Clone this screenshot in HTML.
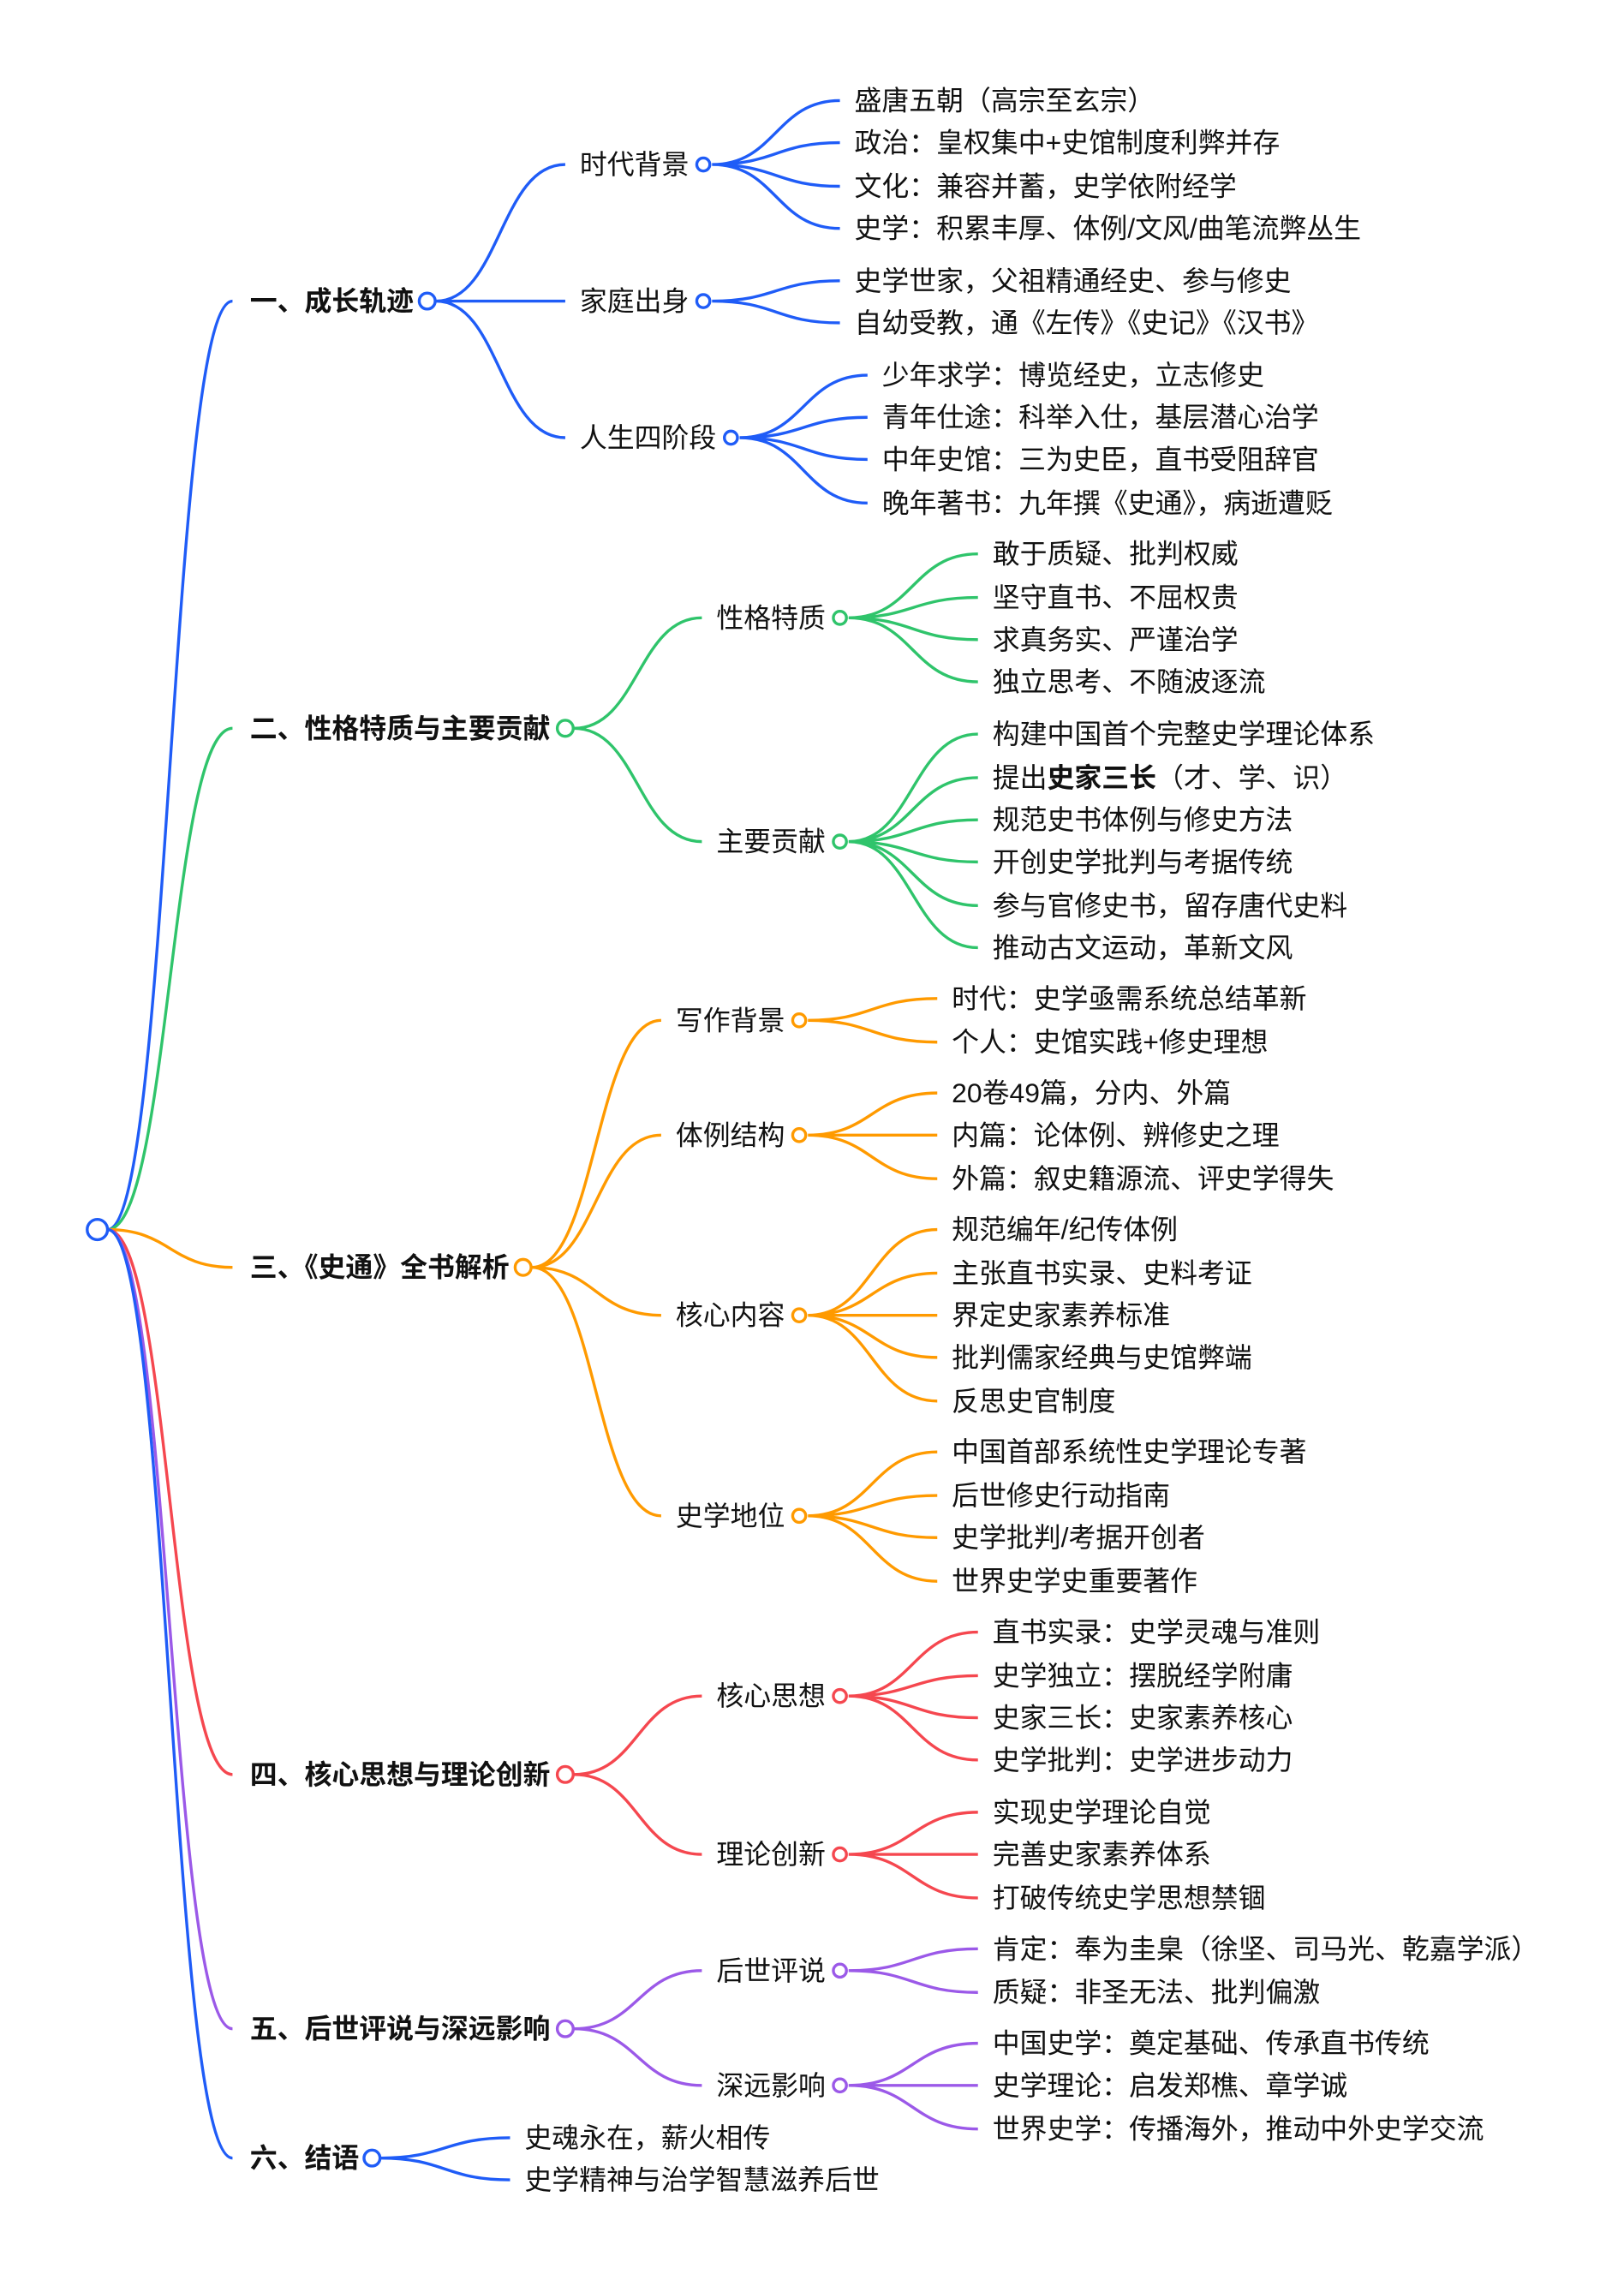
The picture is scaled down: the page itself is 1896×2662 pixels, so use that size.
<!DOCTYPE html>
<html><head><meta charset="utf-8"><style>
html,body{margin:0;padding:0;background:#fff;}
svg{display:block;}
text{font-family:"Liberation Sans","Noto Sans CJK SC",sans-serif;font-size:18.8px;fill:#111;dominant-baseline:central;}
.b{font-weight:bold;}
path{fill:none;stroke-width:2;}
circle{fill:#fff;stroke-width:2;}
.bl{stroke:#1f5cf7}.gr{stroke:#2fc46b}.or{stroke:#ff9a00}.rd{stroke:#f5474f}.pu{stroke:#9b59e8}
</style></head><body>
<svg width="1896" height="2662" viewBox="0 0 1117.6 1568.7" xmlns="http://www.w3.org/2000/svg">
<path class="bl" d="M74 846 C117 846,117 207,160 207"/>
<path class="gr" d="M74 846 C117 846,117 501,160 501"/>
<path class="or" d="M74 846 C117 846,117 872,160 872"/>
<path class="rd" d="M74 846 C117 846,117 1221,160 1221"/>
<path class="pu" d="M74 846 C117 846,117 1396,160 1396"/>
<path class="bl" d="M74 846 C117 846,117 1485,160 1485"/>

<path class="bl" d="M300 207 C344 207,344 113,389 113 M300 207 L389 207 M300 207 C344 207,344 301,389 301"/>
<path class="bl" d="M490 113 C534 113,534 69,578 69 M490 113 C534 113,534 98,578 98 M490 113 C534 113,534 128,578 128 M490 113 C534 113,534 157,578 157"/>
<path class="bl" d="M490 207 C534 207,534 193,578 193 M490 207 C534 207,534 222,578 222"/>
<path class="bl" d="M509 301 C553 301,553 258,597 258 M509 301 C553 301,553 287,597 287 M509 301 C553 301,553 316,597 316 M509 301 C553 301,553 346,597 346"/>
<path class="gr" d="M395 501 C439 501,439 425,483 425 M395 501 C439 501,439 579,483 579"/>
<path class="gr" d="M584 425 C628 425,628 381,673 381 M584 425 C628 425,628 411,673 411 M584 425 C628 425,628 440,673 440 M584 425 C628 425,628 469,673 469"/>
<path class="gr" d="M584 579 C628 579,628 505,673 505 M584 579 C628 579,628 535,673 535 M584 579 C628 579,628 564,673 564 M584 579 C628 579,628 593,673 593 M584 579 C628 579,628 623,673 623 M584 579 C628 579,628 652,673 652"/>
<path class="or" d="M366 872 C410 872,410 702,455 702 M366 872 C410 872,410 781,455 781 M366 872 C410 872,410 905,455 905 M366 872 C410 872,410 1043,455 1043"/>
<path class="or" d="M556 702 C600 702,600 687,645 687 M556 702 C600 702,600 717,645 717"/>
<path class="or" d="M556 781 C600 781,600 752,645 752 M556 781 L645 781 M556 781 C600 781,600 811,645 811"/>
<path class="or" d="M556 905 C600 905,600 846,645 846 M556 905 C600 905,600 876,645 876 M556 905 L645 905 M556 905 C600 905,600 934,645 934 M556 905 C600 905,600 964,645 964"/>
<path class="or" d="M556 1043 C600 1043,600 999,645 999 M556 1043 C600 1043,600 1029,645 1029 M556 1043 C600 1043,600 1058,645 1058 M556 1043 C600 1043,600 1088,645 1088"/>
<path class="rd" d="M395 1221 C439 1221,439 1167,483 1167 M395 1221 C439 1221,439 1276,483 1276"/>
<path class="rd" d="M584 1167 C628 1167,628 1123,673 1123 M584 1167 C628 1167,628 1153,673 1153 M584 1167 C628 1167,628 1182,673 1182 M584 1167 C628 1167,628 1211,673 1211"/>
<path class="rd" d="M584 1276 C628 1276,628 1247,673 1247 M584 1276 L673 1276 M584 1276 C628 1276,628 1306,673 1306"/>
<path class="pu" d="M395 1396 C439 1396,439 1356,483 1356 M395 1396 C439 1396,439 1435,483 1435"/>
<path class="pu" d="M584 1356 C628 1356,628 1341,673 1341 M584 1356 C628 1356,628 1371,673 1371"/>
<path class="pu" d="M584 1435 C628 1435,628 1406,673 1406 M584 1435 L673 1435 M584 1435 C628 1435,628 1465,673 1465"/>
<path class="bl" d="M262 1485 C306 1485,306 1471,351 1471 M262 1485 C306 1485,306 1500,351 1500"/>

<circle class="bl" cx="67" cy="846" r="7"/>
<circle class="bl" cx="294" cy="207" r="5.5"/>
<circle class="gr" cx="389" cy="501" r="5.5"/>
<circle class="or" cx="360" cy="872" r="5.5"/>
<circle class="rd" cx="389" cy="1221" r="5.5"/>
<circle class="pu" cx="389" cy="1396" r="5.5"/>
<circle class="bl" cx="256" cy="1485" r="5.5"/>
<circle class="bl" cx="484" cy="113" r="4.5"/>
<circle class="bl" cx="484" cy="207" r="4.5"/>
<circle class="bl" cx="503" cy="301" r="4.5"/>
<circle class="gr" cx="578" cy="425" r="4.5"/>
<circle class="gr" cx="578" cy="579" r="4.5"/>
<circle class="or" cx="550" cy="702" r="4.5"/>
<circle class="or" cx="550" cy="781" r="4.5"/>
<circle class="or" cx="550" cy="905" r="4.5"/>
<circle class="or" cx="550" cy="1043" r="4.5"/>
<circle class="rd" cx="578" cy="1167" r="4.5"/>
<circle class="rd" cx="578" cy="1276" r="4.5"/>
<circle class="pu" cx="578" cy="1356" r="4.5"/>
<circle class="pu" cx="578" cy="1435" r="4.5"/>

<text class="b" x="172" y="207">一、成长轨迹</text>
<text class="b" x="172" y="501">二、性格特质与主要贡献</text>
<text class="b" x="172" y="872">三、《史通》全书解析</text>
<text class="b" x="172" y="1221">四、核心思想与理论创新</text>
<text class="b" x="172" y="1396">五、后世评说与深远影响</text>
<text class="b" x="172" y="1485">六、结语</text>

<text x="399" y="113">时代背景</text>
<text x="399" y="207">家庭出身</text>
<text x="399" y="301">人生四阶段</text>
<text x="493" y="425">性格特质</text>
<text x="493" y="579">主要贡献</text>
<text x="465" y="702">写作背景</text>
<text x="465" y="781">体例结构</text>
<text x="465" y="905">核心内容</text>
<text x="465" y="1043">史学地位</text>
<text x="493" y="1167">核心思想</text>
<text x="493" y="1276">理论创新</text>
<text x="493" y="1356">后世评说</text>
<text x="493" y="1435">深远影响</text>

<text x="588" y="69">盛唐五朝（高宗至玄宗）</text>
<text x="588" y="98">政治：皇权集中+史馆制度利弊并存</text>
<text x="588" y="128">文化：兼容并蓄，史学依附经学</text>
<text x="588" y="157">史学：积累丰厚、体例/文风/曲笔流弊丛生</text>
<text x="588" y="193">史学世家，父祖精通经史、参与修史</text>
<text x="588" y="222">自幼受教，通《左传》《史记》《汉书》</text>
<text x="607" y="258">少年求学：博览经史，立志修史</text>
<text x="607" y="287">青年仕途：科举入仕，基层潜心治学</text>
<text x="607" y="316">中年史馆：三为史臣，直书受阻辞官</text>
<text x="607" y="346">晚年著书：九年撰《史通》，病逝遭贬</text>

<text x="683" y="381">敢于质疑、批判权威</text>
<text x="683" y="411">坚守直书、不屈权贵</text>
<text x="683" y="440">求真务实、严谨治学</text>
<text x="683" y="469">独立思考、不随波逐流</text>
<text x="683" y="505">构建中国首个完整史学理论体系</text>
<text x="683" y="535">提出<tspan class="b">史家三长</tspan>（才、学、识）</text>
<text x="683" y="564">规范史书体例与修史方法</text>
<text x="683" y="593">开创史学批判与考据传统</text>
<text x="683" y="623">参与官修史书，留存唐代史料</text>
<text x="683" y="652">推动古文运动，革新文风</text>

<text x="655" y="687">时代：史学亟需系统总结革新</text>
<text x="655" y="717">个人：史馆实践+修史理想</text>
<text x="655" y="752">20卷49篇，分内、外篇</text>
<text x="655" y="781">内篇：论体例、辨修史之理</text>
<text x="655" y="811">外篇：叙史籍源流、评史学得失</text>
<text x="655" y="846">规范编年/纪传体例</text>
<text x="655" y="876">主张直书实录、史料考证</text>
<text x="655" y="905">界定史家素养标准</text>
<text x="655" y="934">批判儒家经典与史馆弊端</text>
<text x="655" y="964">反思史官制度</text>
<text x="655" y="999">中国首部系统性史学理论专著</text>
<text x="655" y="1029">后世修史行动指南</text>
<text x="655" y="1058">史学批判/考据开创者</text>
<text x="655" y="1088">世界史学史重要著作</text>

<text x="683" y="1123">直书实录：史学灵魂与准则</text>
<text x="683" y="1153">史学独立：摆脱经学附庸</text>
<text x="683" y="1182">史家三长：史家素养核心</text>
<text x="683" y="1211">史学批判：史学进步动力</text>
<text x="683" y="1247">实现史学理论自觉</text>
<text x="683" y="1276">完善史家素养体系</text>
<text x="683" y="1306">打破传统史学思想禁锢</text>

<text x="683" y="1341">肯定：奉为圭臬（徐坚、司马光、乾嘉学派）</text>
<text x="683" y="1371">质疑：非圣无法、批判偏激</text>
<text x="683" y="1406">中国史学：奠定基础、传承直书传统</text>
<text x="683" y="1435">史学理论：启发郑樵、章学诚</text>
<text x="683" y="1465">世界史学：传播海外，推动中外史学交流</text>

<text x="361" y="1471">史魂永在，薪火相传</text>
<text x="361" y="1500">史学精神与治学智慧滋养后世</text>
</svg>
</body></html>
